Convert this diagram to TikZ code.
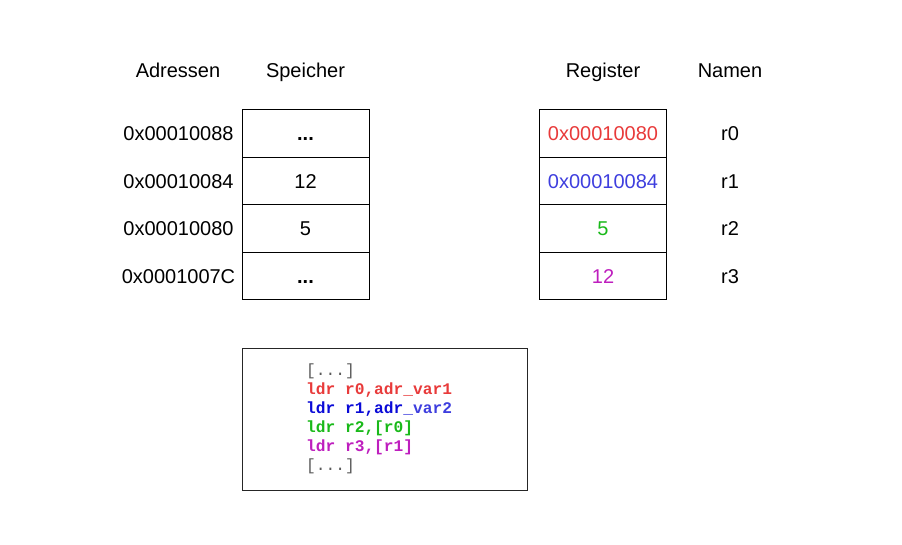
\documentclass[tikz,border=0pt]{standalone}
\usepackage{fontspec}
\setmainfont{Liberation Sans}
\newfontfamily\codefont{Liberation Mono}
\definecolor{cred}{RGB}{232,58,58}
\definecolor{cblue}{RGB}{62,62,222}
\definecolor{cdblue}{RGB}{10,10,215}
\definecolor{cgreen}{RGB}{25,185,25}
\definecolor{cmag}{RGB}{190,30,190}
\definecolor{cgray}{RGB}{90,90,90}
\begin{document}
\begin{tikzpicture}[x=1pt,y=-1pt,
  lbl/.style={font=\fontsize{20}{23}\selectfont, inner sep=0pt, anchor=base},
  cell/.style={draw=black, line width=1pt, minimum width=127pt, minimum height=47.5pt, inner sep=0pt},
  ctext/.style={font=\fontsize{20}{23}\selectfont, inner sep=0pt, anchor=base},
  codebox/.style={draw=black!85, line width=1pt, inner sep=0pt}]
\useasboundingbox (0,0) rectangle (902,545);
% headers
\node[lbl] (hAdr) at (178,78) {Adressen};
\node[lbl] (hSp) at (305.5,78) {Speicher};
\node[lbl] (hReg) at (603,78) {Register};
\node[lbl] (hNam) at (730,78) {Namen};
% memory cells
\node[cell] (m0) at (305.5,133.75) {};
\node[cell] (m1) at (305.5,181.25) {};
\node[cell] (m2) at (305.5,228.75) {};
\node[cell] (m3) at (305.5,276.25) {};
\node[ctext] (t0) at (305.5,141) {\textbf{...}};
\node[ctext] (t1) at (305.5,188.5) {12};
\node[ctext] (t2) at (305.5,236) {5};
\node[ctext] (t3) at (305.5,283.5) {\textbf{...}};
\node[lbl] (a0) at (178.5,141) {0x00010088};
\node[lbl] (a1) at (178.5,188.5) {0x00010084};
\node[lbl] (a2) at (178.5,236) {0x00010080};
\node[lbl] (a3) at (178.5,283.5) {0x0001007C};
% registers
\node[cell] (r0) at (603,133.75) {};
\node[cell] (r1) at (603,181.25) {};
\node[cell] (r2) at (603,228.75) {};
\node[cell] (r3) at (603,276.25) {};
\node[ctext, text=cred] (v0) at (603,141) {0x00010080};
\node[ctext, text=cblue] (v1) at (603,188.5) {0x00010084};
\node[ctext, text=cgreen] (v2) at (603,236) {5};
\node[ctext, text=cmag] (v3) at (603,283.5) {12};
\node[lbl] (n0) at (730,141) {r0};
\node[lbl] (n1) at (730,188.5) {r1};
\node[lbl] (n2) at (730,236) {r2};
\node[lbl] (n3) at (730,283.5) {r3};
% code box
\draw[codebox] (242,348) rectangle (527,490);
\node[anchor=west, inner sep=0pt, font=\codefont\fontsize{16.2}{19}\selectfont] (code) at (306,419.5)
{\begin{tabular}{@{}l@{}}
\textcolor{cgray}{[...]}\\
\textcolor{cred}{\bfseries ldr r0,adr\_var1}\\
\textcolor{cdblue}{\bfseries ldr r1,adr}\textcolor{cblue}{\bfseries\_var2}\\
\textcolor{cgreen}{\bfseries ldr r2,[r0]}\\
\textcolor{cmag}{\bfseries ldr r3,[r1]}\\
\textcolor{cgray}{[...]}
\end{tabular}};
\end{tikzpicture}
\end{document}
